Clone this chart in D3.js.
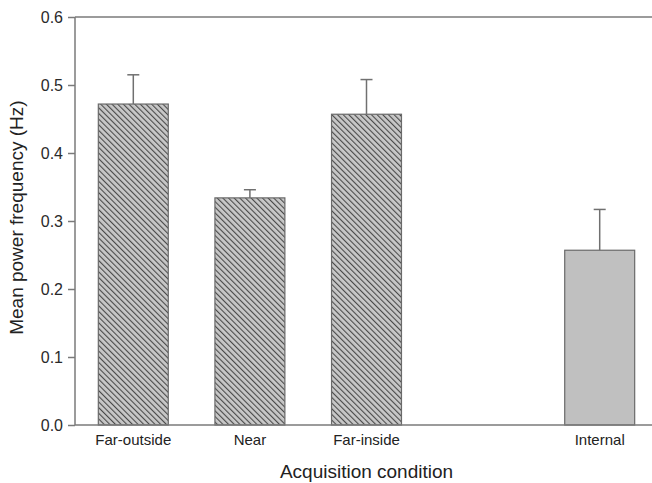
<!DOCTYPE html>
<html>
<head>
<meta charset="utf-8">
<script src="https://cdn.jsdelivr.net/npm/d3@7"></script>
<style>
  body { margin: 0; background: #fff; }
  text { font-family: Arial, "Liberation Sans", sans-serif; fill: #222; }
</style>
</head>
<body>
<div id="chart"></div>
<script>
// data
const categories = ["Far-outside", "Near", "Far-inside", "Internal"];
const slots = [0, 1, 2, 4];          // gap left at slot 3
const means = [0.472, 0.334, 0.457, 0.257];
const errors = [0.043, 0.012, 0.051, 0.060];
const hatched = [true, true, true, false];
const yTicks = [0.0, 0.1, 0.2, 0.3, 0.4, 0.5, 0.6];

const W = 652, H = 483;
const margin = {top: 17, right: -6, bottom: 58, left: 75},
    width = W - margin.left - margin.right,
    height = H - margin.top - margin.bottom;

const svg = d3.select("#chart")
    .append("svg")
    .attr("width", W)
    .attr("height", H);

// hatch pattern for the first three bars
const pat = svg.append("defs").append("pattern")
    .attr("id", "hatch")
    .attr("patternUnits", "userSpaceOnUse")
    .attr("width", 4)
    .attr("height", 4)
    .attr("patternTransform", "rotate(-45)");
pat.append("rect")
    .attr("width", 4).attr("height", 4)
    .attr("fill", "#c8c8c8");
pat.append("line")
    .attr("x1", 0).attr("y1", 0).attr("x2", 0).attr("y2", 4)
    .attr("stroke", "#4a4a4a")
    .attr("stroke-width", 2.2);

const g = svg.append("g")
    .attr("transform", `translate(${margin.left},${margin.top})`);

const x = d3.scaleBand()
    .domain(d3.range(5))
    .range([0, width])
    .paddingInner(0.4)
    .paddingOuter(0.2);

const y = d3.scaleLinear()
    .domain([0, 0.6])
    .range([height, 0]);

// bars
g.selectAll(".bar")
    .data(means)
    .join("rect")
    .attr("class", "bar")
    .attr("x", (d, i) => x(slots[i]))
    .attr("y", d => y(d))
    .attr("width", x.bandwidth())
    .attr("height", d => height - y(d))
    .attr("fill", (d, i) => hatched[i] ? "url(#hatch)" : "#c0c0c0")
    .attr("stroke", "#6a6a6a")
    .attr("stroke-width", 1.2);

// error bars (upper only)
const eb = g.selectAll(".err")
    .data(means)
    .join("g")
    .attr("class", "err")
    .attr("stroke", "#707070")
    .attr("stroke-width", 1.5);
eb.append("line")
    .attr("x1", (d, i) => x(slots[i]) + x.bandwidth() / 2)
    .attr("x2", (d, i) => x(slots[i]) + x.bandwidth() / 2)
    .attr("y1", d => y(d))
    .attr("y2", (d, i) => y(d + errors[i]));
eb.append("line")
    .attr("x1", (d, i) => x(slots[i]) + x.bandwidth() / 2 - 6)
    .attr("x2", (d, i) => x(slots[i]) + x.bandwidth() / 2 + 6)
    .attr("y1", (d, i) => y(d + errors[i]))
    .attr("y2", (d, i) => y(d + errors[i]));

// Y axis
const yAxis = g.append("g")
    .call(d3.axisLeft(y).tickValues(yTicks).tickFormat(d3.format(".1f")).tickSize(7).tickPadding(5));
yAxis.selectAll("line, path").attr("stroke", "#7a7a7a").attr("stroke-width", 1.5);
yAxis.select(".domain").attr("d", `M0,${height}V0`);
yAxis.selectAll("text")
    .style("font-size", "16px")
    .style("fill", "#2a2a2a");

// X axis: baseline and category labels, no ticks
const xAxis = g.append("g")
    .attr("transform", `translate(0,${height})`)
    .call(d3.axisBottom(x).tickValues(slots).tickSize(0).tickPadding(9)
        .tickFormat((d, i) => categories[i]));
xAxis.select(".domain").attr("stroke", "#7a7a7a").attr("stroke-width", 1.5)
    .attr("d", `M0,0H${width}`);
xAxis.selectAll("text")
    .style("font-size", "15px")
    .style("fill", "#222");

// top frame line
g.append("line")
    .attr("x1", 0).attr("x2", width)
    .attr("y1", 0).attr("y2", 0)
    .attr("stroke", "#7a7a7a")
    .attr("stroke-width", 1.5);

// axis titles
g.append("text")
    .attr("x", width / 2)
    .attr("y", height + 53)
    .attr("text-anchor", "middle")
    .style("font-size", "19px")
    .text("Acquisition condition");

g.append("text")
    .attr("transform", `translate(${-52},${y(0.305)}) rotate(-90)`)
    .attr("text-anchor", "middle")
    .style("font-size", "19px")
    .text("Mean power frequency (Hz)");
</script>
</body>
</html>
